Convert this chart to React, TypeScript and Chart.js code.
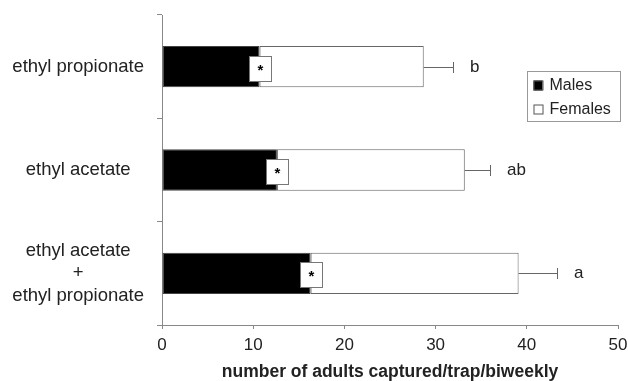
import React, { useEffect, useRef } from 'react';
import { Chart, registerables } from 'chart.js';
Chart.register(...registerables);

const categories: (string | string[])[] = [
  'ethyl propionate',
  'ethyl acetate',
  ['ethyl acetate', '+', 'ethyl propionate'],
];
const males = [10.7, 12.6, 16.3];
const females = [18.0, 20.6, 22.8];
const errors = [3.2, 2.8, 4.2];
const letters = ['b', 'ab', 'a'];
const seriesNames = ['Males', 'Females'];
const xTitle = 'number of adults captured/trap/biweekly';

const FONT = "'Liberation Sans', Arial, sans-serif";
const TEXT = '#222';
const AXIS = '#888';

const overlayPlugin = {
  id: 'overlay',
  afterDatasetsDraw(chart: any) {
    const ctx = chart.ctx as CanvasRenderingContext2D;
    const xs = chart.scales.x;
    const ys = chart.scales.y;
    categories.forEach((_, i) => {
      const yc = Math.round(ys.getPixelForValue(i));
      const total = males[i] + females[i];
      const x0 = xs.getPixelForValue(total);
      const x1 = Math.round(xs.getPixelForValue(total + errors[i]));
      ctx.save();
      ctx.strokeStyle = '#666';
      ctx.lineWidth = 1;
      ctx.beginPath();
      ctx.moveTo(x0, yc + 0.5);
      ctx.lineTo(x1, yc + 0.5);
      ctx.moveTo(x1 + 0.5, yc - 5);
      ctx.lineTo(x1 + 0.5, yc + 6);
      ctx.stroke();
      ctx.fillStyle = TEXT;
      ctx.font = `17px ${FONT}`;
      ctx.textBaseline = 'middle';
      ctx.textAlign = 'left';
      ctx.fillText(letters[i], x1 + 17, yc);
      // asterisk box
      const xm = Math.round(xs.getPixelForValue(males[i]));
      ctx.fillStyle = '#fff';
      ctx.fillRect(xm - 11, yc - 11, 22, 25);
      ctx.strokeStyle = '#777';
      ctx.strokeRect(xm - 10.5, yc - 10.5, 22, 25);
      ctx.fillStyle = '#000';
      ctx.font = `bold 15px ${FONT}`;
      ctx.textAlign = 'center';
      ctx.fillText('*', xm + 0.5, yc + 4);
      ctx.restore();
    });
    // legend
    const ca = chart.chartArea;
    const bx = ca.right - 90.5;
    const by = ca.top + 56.5;
    ctx.save();
    ctx.strokeStyle = '#999';
    ctx.lineWidth = 1;
    ctx.strokeRect(bx, by, 93, 50);
    ctx.font = `16px ${FONT}`;
    ctx.textBaseline = 'middle';
    ctx.textAlign = 'left';
    chart.data.datasets.forEach((ds: any, k: number) => {
      const cy = by + 14 + k * 24;
      ctx.fillStyle = ds.backgroundColor;
      ctx.fillRect(bx + 6, cy - 5, 9, 10);
      ctx.strokeStyle = '#555';
      ctx.strokeRect(bx + 6.5, cy - 4.5, 9, 9);
      ctx.fillStyle = TEXT;
      ctx.fillText(ds.label, bx + 22, cy);
    });
    ctx.restore();
  },
};

export default function App() {
  const ref = useRef<HTMLCanvasElement>(null);
  useEffect(() => {
    if (!ref.current) return;
    const chart = new Chart(ref.current, {
      type: 'bar',
      data: {
        labels: categories as any,
        datasets: [
          {
            label: seriesNames[0],
            data: males,
            backgroundColor: '#000',
            borderColor: '#444',
            borderWidth: 1,
            borderSkipped: false,
            barPercentage: 0.4,
            categoryPercentage: 1,
          },
          {
            label: seriesNames[1],
            data: females,
            backgroundColor: '#fff',
            borderColor: '#666',
            borderWidth: 1,
            borderSkipped: false,
            barPercentage: 0.4,
            categoryPercentage: 1,
          },
        ],
      },
      options: {
        indexAxis: 'y',
        animation: false,
        responsive: false,
        layout: { padding: { top: 15, right: 10, left: 0, bottom: 0 } },
        plugins: { legend: { display: false }, tooltip: { enabled: false } },
        scales: {
          x: {
            stacked: true,
            min: 0,
            max: 50,
            ticks: { stepSize: 10, color: TEXT, font: { family: FONT, size: 17 }, padding: 6 },
            grid: { drawOnChartArea: false, tickLength: 4, color: AXIS },
            border: { color: AXIS },
            title: {
              display: true,
              text: xTitle,
              color: TEXT,
              font: { family: FONT, size: 17.5, weight: 'bold', lineHeight: 1 },
              padding: 0,
            },
            afterFit: (s: any) => {
              s.height = 56;
              s.paddingLeft = 0;
              s.paddingRight = 0;
            },
          },
          y: {
            stacked: true,
            ticks: {
              color: TEXT,
              font: { family: FONT, size: 18.5 },
              crossAlign: 'center',
              padding: 13,
            },
            grid: { drawOnChartArea: false, offset: true, tickLength: 5, color: AXIS },
            border: { color: AXIS },
            afterFit: (s: any) => {
              s.width = 162;
              s.paddingTop = 0;
              s.paddingBottom = 0;
            },
          },
        },
      },
      plugins: [overlayPlugin],
    });
    return () => chart.destroy();
  }, []);
  return (
    <div style={{ position: 'fixed', left: 0, top: 0, width: 628, height: 381, background: '#fff' }}>
      <canvas ref={ref} width={628} height={381} />
    </div>
  );
}
